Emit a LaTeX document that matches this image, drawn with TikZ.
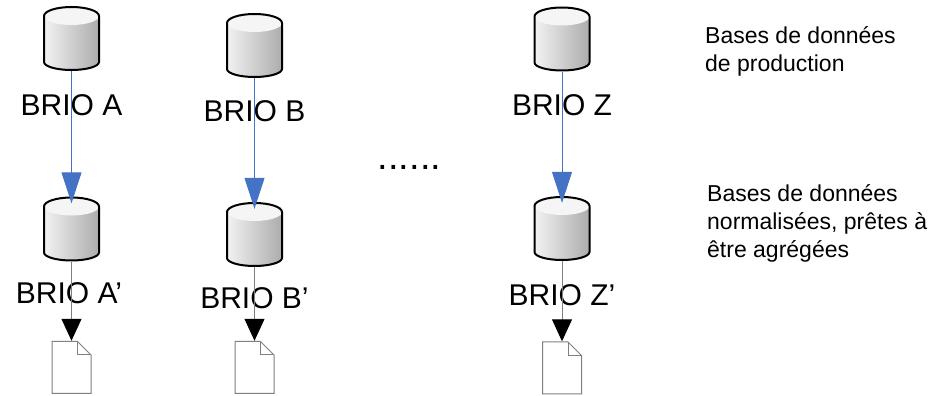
\documentclass[tikz,border=0pt]{standalone}
\usepackage{fontspec}
\setmainfont{Liberation Sans}
\usetikzlibrary{shapes, arrows.meta, calc}
\definecolor{arrowblue}{RGB}{68,114,196}
\tikzstyle{db} = [rectangle, fill=white, inner sep=0pt, minimum width=57pt, minimum height=65pt,
  path picture={
    \coordinate (c_sw) at ([shift={(1pt,1pt)}]path picture bounding box.south west);
    \coordinate (c_ne) at ([shift={(-1pt,-1pt)}]path picture bounding box.north east);
    \shade[left color=gray!10, right color=gray!65] let \p1=(c_sw), \p2=(c_ne), \n1={(\x2-\x1)/2} in
      (\x1,{\y2-9pt}) -- (\x1,{\y1+8pt}) arc[start angle=180, end angle=360, x radius=\n1, y radius=8pt] -- (\x2,{\y2-9pt}) -- cycle;
    \fill[gray!8] let \p1=(c_sw), \p2=(c_ne), \n1={(\x2-\x1)/2} in
      ({(\x1+\x2)/2},{\y2-9pt}) ellipse [x radius=\n1, y radius=9pt];
    \draw[line width=2pt] let \p1=(c_sw), \p2=(c_ne), \n1={(\x2-\x1)/2} in
      (\x1,{\y2-9pt}) arc[start angle=180, end angle=0, x radius=\n1, y radius=9pt] -- (\x2,{\y1+8pt})
      arc[start angle=0, end angle=-180, x radius=\n1, y radius=8pt] -- cycle;
  }]
\tikzstyle{doc} = [rectangle, fill=white, inner sep=0pt, minimum width=40pt, minimum height=53pt,
  path picture={
    \draw[gray, line width=1pt] ([shift={(0.5pt,0.5pt)}]path picture bounding box.south west)
      |- ([shift={(-14pt,-0.5pt)}]path picture bounding box.north east)
      -- ([shift={(-0.5pt,-14pt)}]path picture bounding box.north east) |- cycle;
    \draw[gray, line width=1pt] ([shift={(-14pt,-0.5pt)}]path picture bounding box.north east)
      |- ([shift={(-0.5pt,-14pt)}]path picture bounding box.north east);
  }]
\tikzstyle{brio} = [inner sep=0pt, font=\fontsize{30}{36}\selectfont]
\tikzstyle{note} = [inner sep=0pt, anchor=base west, align=left, font=\fontsize{23}{28}\selectfont]
\tikzstyle{feed} = [draw, arrowblue, line width=1pt, shorten >=-7pt, -{Triangle[width=20pt, length=31pt]}]
\tikzstyle{export} = [draw, gray, line width=1pt, -{Triangle[width=20pt, length=22pt, color=black, fill=black]}]

\begin{document}
\begin{tikzpicture}[x=1pt, y=1pt]
    \useasboundingbox (0,0) rectangle (934,396);

    % production databases
    \node [db] (brio_a) at (71.5,357.5) {};
    \node [db] (brio_b) at (254.5,350.5) {};
    \node [db] (brio_z) at (562,357) {};
    \node [brio, below of=brio_a, node distance=66.5pt] (label_a) {BRIO A};
    \node [brio, below of=brio_b, node distance=65.5pt] (label_b) {BRIO B};
    \node [brio, below of=brio_z, node distance=66pt] (label_z) {BRIO Z};

    % normalised databases
    \node [db, below of=brio_a, node distance=190.5pt] (brio_a_norm) {};
    \node [db, below of=brio_b, node distance=189pt] (brio_b_norm) {};
    \node [db, below of=brio_z, node distance=189.5pt] (brio_z_norm) {};
    \node [brio, below of=brio_a_norm, node distance=64pt, xshift=-2.5pt] (label_a_norm) {BRIO A’};
    \node [brio, below of=brio_b_norm, node distance=63.5pt] (label_b_norm) {BRIO B’};
    \node [brio, below of=brio_z_norm, node distance=66.5pt] (label_z_norm) {BRIO Z’};

    \node [doc, below of=brio_a_norm, node distance=138.5pt] (doc_a) {};
    \node [doc, below of=brio_b_norm, node distance=133pt] (doc_b) {};
    \node [doc, below of=brio_z_norm, node distance=139.5pt] (doc_z) {};

    \node [inner sep=0pt, font=\fontsize{38}{40}\selectfont] (dots) at (409.5,229) {......};

    % base west sits on the last line
    \node [note] (note_prod) at (705,324) {Bases de données\\de production};
    \node [note] (note_norm) at (707,138) {Bases de données\\normalisées, prêtes à\\être agrégées};

    \path [feed] (brio_a) -- (brio_a_norm);
    \path [feed] (brio_b) -- (brio_b_norm);
    \path [feed] (brio_z) -- (brio_z_norm);
    \path [export] (brio_a_norm) -- (doc_a);
    \path [export] (brio_b_norm) -- (doc_b);
    \path [export] (brio_z_norm) -- (doc_z);

\end{tikzpicture}
\end{document}
